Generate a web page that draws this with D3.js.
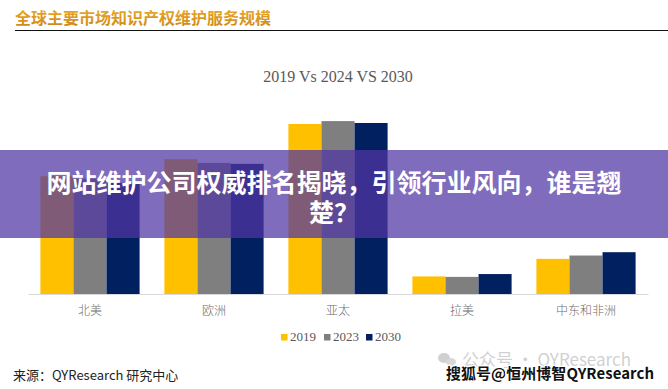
<!DOCTYPE html>
<html>
<head>
<meta charset="utf-8">
<script src="https://cdn.jsdelivr.net/npm/d3@7"></script>
<style>
	html, body { margin: 0; padding: 0; background: #fff; }
	#chart { width: 668px; height: 389px; }
	svg { display: block; }
</style>
</head>
<body>
<div id="chart"></div>
<script>
// regions and years (share of market, %)
var regions = ['北美', '欧洲', '亚太', '拉美', '中东和非洲'];
var years = ['2019', '2023', '2030'];
var share2019 = [24.8, 28.4, 35.8, 3.7, 7.4];
var share2023 = [24.3, 27.6, 36.4, 3.6, 8.1];
var share2030 = [23.4, 27.4, 36.0, 4.2, 8.8];
var yearColors = ['#FFC000', '#7F7F7F', '#002060'];

(function() {
	var W = 668, H = 389;
	var series = [share2019, share2023, share2030];
	var svg = d3.select('#chart').append('svg')
		.attr('width', W)
		.attr('height', H)
		.style('font-family', '"Noto Sans CJK SC", sans-serif');

	var defs = svg.append('defs');
	var grad = defs.append('linearGradient')
		.attr('id', 'gold')
		.attr('x1', 0).attr('y1', 0).attr('x2', 0).attr('y2', 1);
	grad.append('stop').attr('offset', '0%').attr('stop-color', '#F0B030');
	grad.append('stop').attr('offset', '100%').attr('stop-color', '#C98416');

	// header
	svg.append('text')
		.attr('x', 15)
		.attr('y', 24)
		.attr('font-size', 16)
		.attr('font-weight', 'bold')
		.attr('fill', 'url(#gold)')
		.text('全球主要市场知识产权维护服务规模');
	svg.append('line')
		.attr('x1', 15).attr('x2', W)
		.attr('y1', 30.5).attr('y2', 30.5)
		.attr('stroke', '#111')
		.attr('stroke-width', 1.2);

	svg.append('text')
		.attr('x', 338)
		.attr('y', 82)
		.attr('text-anchor', 'middle')
		.attr('font-family', '"Liberation Serif", serif')
		.attr('font-size', 16)
		.attr('fill', '#595959')
		.text('2019 Vs 2024 VS 2030');

	// scales
	var baseline = 294;
	var x0 = d3.scaleBand()
		.domain(regions)
		.range([28, 648])
		.paddingInner(0.2)
		.paddingOuter(0.1);
	var x1 = d3.scaleBand()
		.domain(years)
		.range([0, x0.bandwidth()]);
	var y = d3.scaleLinear()
		.domain([0, 40])
		.range([baseline, baseline - 190]);

	var groups = svg.append('g').attr('class', 'bars')
		.selectAll('g')
		.data(regions)
		.enter()
		.append('g')
		.attr('transform', function(d) { return 'translate(' + x0(d) + ',0)'; });
	groups.selectAll('rect')
		.data(function(d, i) {
			return years.map(function(yr, k) { return { year: yr, value: series[k][i], k: k }; });
		})
		.enter()
		.append('rect')
		.attr('x', function(d) { return x1(d.year); })
		.attr('y', function(d) { return y(d.value); })
		.attr('width', x1.bandwidth())
		.attr('height', function(d) { return baseline - y(d.value); })
		.attr('fill', function(d) { return yearColors[d.k]; });

	// axis
	var axis = svg.append('g')
		.attr('transform', 'translate(0,' + baseline + ')')
		.call(d3.axisBottom(x0).tickSize(0).tickPadding(12).tickSizeOuter(0));
	axis.select('.domain').attr('stroke', '#D9D9D9').attr('stroke-width', 1.2);
	axis.selectAll('text')
		.attr('font-family', '"Liberation Serif", "Noto Sans CJK SC", serif')
		.attr('font-weight', 300)
		.attr('font-size', 12)
		.attr('fill', '#6b6b6b');

	// legend
	var legendX = [281, 324, 366];
	var legend = svg.append('g').selectAll('g')
		.data(years)
		.enter()
		.append('g')
		.attr('transform', function(d, i) { return 'translate(' + legendX[i] + ',334)'; });
	legend.append('rect')
		.attr('width', 6.5).attr('height', 6.5)
		.attr('fill', function(d, i) { return yearColors[i]; });
	legend.append('text')
		.attr('x', 9)
		.attr('y', 7)
		.attr('font-family', '"Liberation Serif", serif')
		.attr('font-size', 13)
		.attr('fill', '#595959')
		.text(function(d) { return d; });

	// footer
	svg.append('text')
		.attr('x', 13)
		.attr('y', 380)
		.attr('font-size', 13)
		.attr('fill', '#222')
		.text('来源：QYResearch 研究中心');

	var wm = svg.append('g').attr('opacity', 0.45);
	wm.append('ellipse').attr('cx', 444).attr('cy', 358).attr('rx', 6).attr('ry', 5).attr('fill', '#999');
	wm.append('ellipse').attr('cx', 451).attr('cy', 362).attr('rx', 5).attr('ry', 4).attr('fill', '#aaa');
	wm.append('text')
		.attr('x', 462)
		.attr('y', 366)
		.attr('font-size', 17)
		.attr('fill', '#999')
		.text('公众号 · QYResearch');

	svg.append('text')
		.attr('x', 446)
		.attr('y', 379)
		.attr('font-size', 15)
		.attr('font-weight', 'bold')
		.attr('fill', '#111')
		.attr('stroke', '#fff')
		.attr('stroke-width', 2.5)
		.attr('paint-order', 'stroke')
		.attr('textLength', 208)
		.text('搜狐号@恒州博智QYResearch');

	// overlay band with headline
	svg.append('rect')
		.attr('x', 0).attr('y', 150)
		.attr('width', W).attr('height', 88)
		.attr('fill', 'rgb(81,53,163)')
		.attr('fill-opacity', 0.73);
	var headline = ['网站维护公司权威排名揭晓，引领行业风向，谁是翘', '楚？'];
	svg.append('g').selectAll('text')
		.data(headline)
		.enter()
		.append('text')
		.attr('x', 334)
		.attr('y', function(d, i) { return 192 + i * 30; })
		.attr('text-anchor', 'middle')
		.attr('font-size', 25)
		.attr('font-weight', 'bold')
		.attr('fill', '#fff')
		.text(function(d) { return d; });
})();
</script>
</body>
</html>
